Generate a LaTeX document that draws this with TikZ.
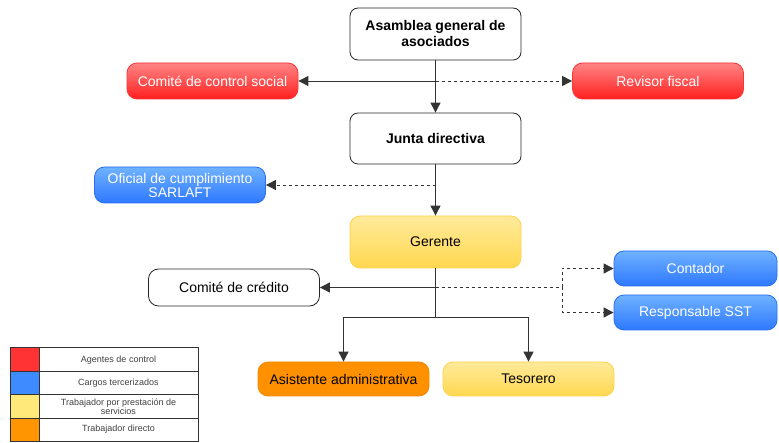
\documentclass[tikz,border=0pt]{standalone}
\usepackage{fontspec}
\setmainfont{Liberation Sans}
\setsansfont{Liberation Sans}
\usetikzlibrary{positioning,arrows.meta,calc}

\definecolor{redTop}{HTML}{FF8585}
\definecolor{redBot}{HTML}{FF1F1F}
\definecolor{redLine}{HTML}{FF3333}
\definecolor{blueTop}{HTML}{6FB2FF}
\definecolor{blueBot}{HTML}{2E78FF}
\definecolor{blueLine}{HTML}{2A6FF0}
\definecolor{yelTop}{HTML}{FFEA9A}
\definecolor{yelBot}{HTML}{FFD850}
\definecolor{yelLine}{HTML}{FFD24D}
\definecolor{orgFill}{HTML}{FF9000}
\definecolor{orgLine}{HTML}{F08A00}
\definecolor{legRed}{HTML}{FF3333}
\definecolor{legBlue}{HTML}{3D8BFF}
\definecolor{legYel}{HTML}{FFE97A}
\definecolor{legOrg}{HTML}{FF9500}

\begin{document}
\begin{tikzpicture}[
    x=1pt, y=-1pt,
    font=\sffamily\fontsize{14}{16}\selectfont,
    box/.style     ={draw=black!85,rounded corners=8pt,thick,align=center,fill=white,
                     minimum width=171pt,inner sep=2pt},
    ctrl/.style    ={box,draw=redLine,top color=redTop,bottom color=redBot,text=white,
                     minimum height=36pt,rounded corners=10pt},
    terc/.style    ={box,draw=blueLine,top color=blueTop,bottom color=blueBot,text=white,
                     minimum height=36pt,rounded corners=10pt},
    serv/.style    ={box,draw=yelLine,top color=yelTop,bottom color=yelBot,
                     rounded corners=10pt},
    direct/.style  ={box,draw=orgLine,fill=orgFill,rounded corners=10pt},
    lbl/.style     ={font=\sffamily\bfseries\fontsize{14}{16}\selectfont},
    arrow/.style   ={-{Triangle[length=10pt,width=10pt]},draw=black!80,line width=0.9pt},
    plain/.style   ={draw=black!80,line width=0.9pt},
    dashln/.style  ={dash pattern=on 3pt off 3pt},
    legcell/.style ={draw=black!80,line width=1pt,minimum height=23pt,inner sep=0pt,
                     outer sep=0pt,anchor=north west},
    legtxt/.style  ={legcell,minimum width=159pt,align=center,text=black!75,
                     font=\sffamily\fontsize{9}{9.5}\selectfont},
]

\useasboundingbox (0,0) rectangle (779,443);

% ---------- Parameters (pt, y grows downwards) ----------
\def\axis{435.5}  % main vertical axis

% ---------- Main column ----------
\node[box, lbl, minimum height=52pt] (asamblea) at (\axis,34) {Asamblea general de\\asociados};
\node[box, lbl, minimum height=51pt] (junta) at (\axis,138.5) {Junta directiva};
\node[serv, minimum height=52pt] (gerente) at (\axis,242) {Gerente};

% ---------- Control ----------
\node[ctrl] (comiteCS) at (212.5,81) {Comité de control social};
\node[ctrl] (revisor) at (658,81) {Revisor fiscal};

% ---------- Outsourced ----------
\node[terc, inner sep=1pt, font=\sffamily\fontsize{14}{14}\selectfont] (oficial) at (180,185)
  {Oficial de cumplimiento\\SARLAFT};
\node[terc, minimum width=163pt, minimum height=35pt] (contador) at (695.5,268.5) {Contador};
\node[terc, minimum width=163pt, minimum height=35pt] (sst) at (695.5,312.5) {Responsable SST};

% ---------- Below Gerente ----------
\node[box, minimum height=37pt, rounded corners=10pt] (credito) at (234,287.5) {Comité de crédito};
\node[direct, minimum height=34pt] (asistente) at (343.5,379) {Asistente administrativa};
\node[serv, minimum height=34pt] (tesorero) at (528.5,379) {Tesorero};

% ---------- Connectors ----------
\coordinate (ctrlJ) at (asamblea.south |- comiteCS.east);
\coordinate (ofiJ)  at (junta.south |- oficial.east);
\coordinate (credJ) at (gerente.south |- credito.east);
\coordinate (splitJ) at (562,287.5);
\coordinate (brJ)   at ($(gerente.south)+(0,49)$);

\draw[arrow] (asamblea) -- (junta);
\draw[arrow] (ctrlJ) -- (comiteCS);
\draw[arrow,dashln] (ctrlJ) -- (revisor);

\draw[arrow] (junta) -- (gerente);
\draw[arrow,dashln] (ofiJ) -- (oficial);

\draw[plain] (gerente.south) -- (brJ);
\draw[arrow] (credJ) -- (credito);
\draw[plain,dashln] (credJ) -- (splitJ);
\draw[arrow,dashln] (splitJ) |- (contador);
\draw[arrow,dashln] (splitJ) |- (sst);
\draw[arrow] (brJ) -| (asistente);
\draw[arrow] (brJ) -| (tesorero);

% ---------- Legend ----------
\node[legcell, fill=legRed,  minimum width=29pt, minimum height=24pt] (leg1c) at (10,348) {};
\node[legtxt, minimum height=24pt] (leg1t) at (leg1c.north east) {Agentes de control};
\node[legcell, fill=legBlue, minimum width=29pt] (leg2c) at (leg1c.south west) {};
\node[legtxt] (leg2t) at (leg2c.north east) {Cargos tercerizados};
\node[legcell, fill=legYel,  minimum width=29pt] (leg3c) at (leg2c.south west) {};
\node[legtxt] (leg3t) at (leg3c.north east) {Trabajador por prestación de\\servicios};
\node[legcell, fill=legOrg,  minimum width=29pt] (leg4c) at (leg3c.south west) {};
\node[legtxt] (leg4t) at (leg4c.north east) {Trabajador directo};

\end{tikzpicture}
\end{document}
